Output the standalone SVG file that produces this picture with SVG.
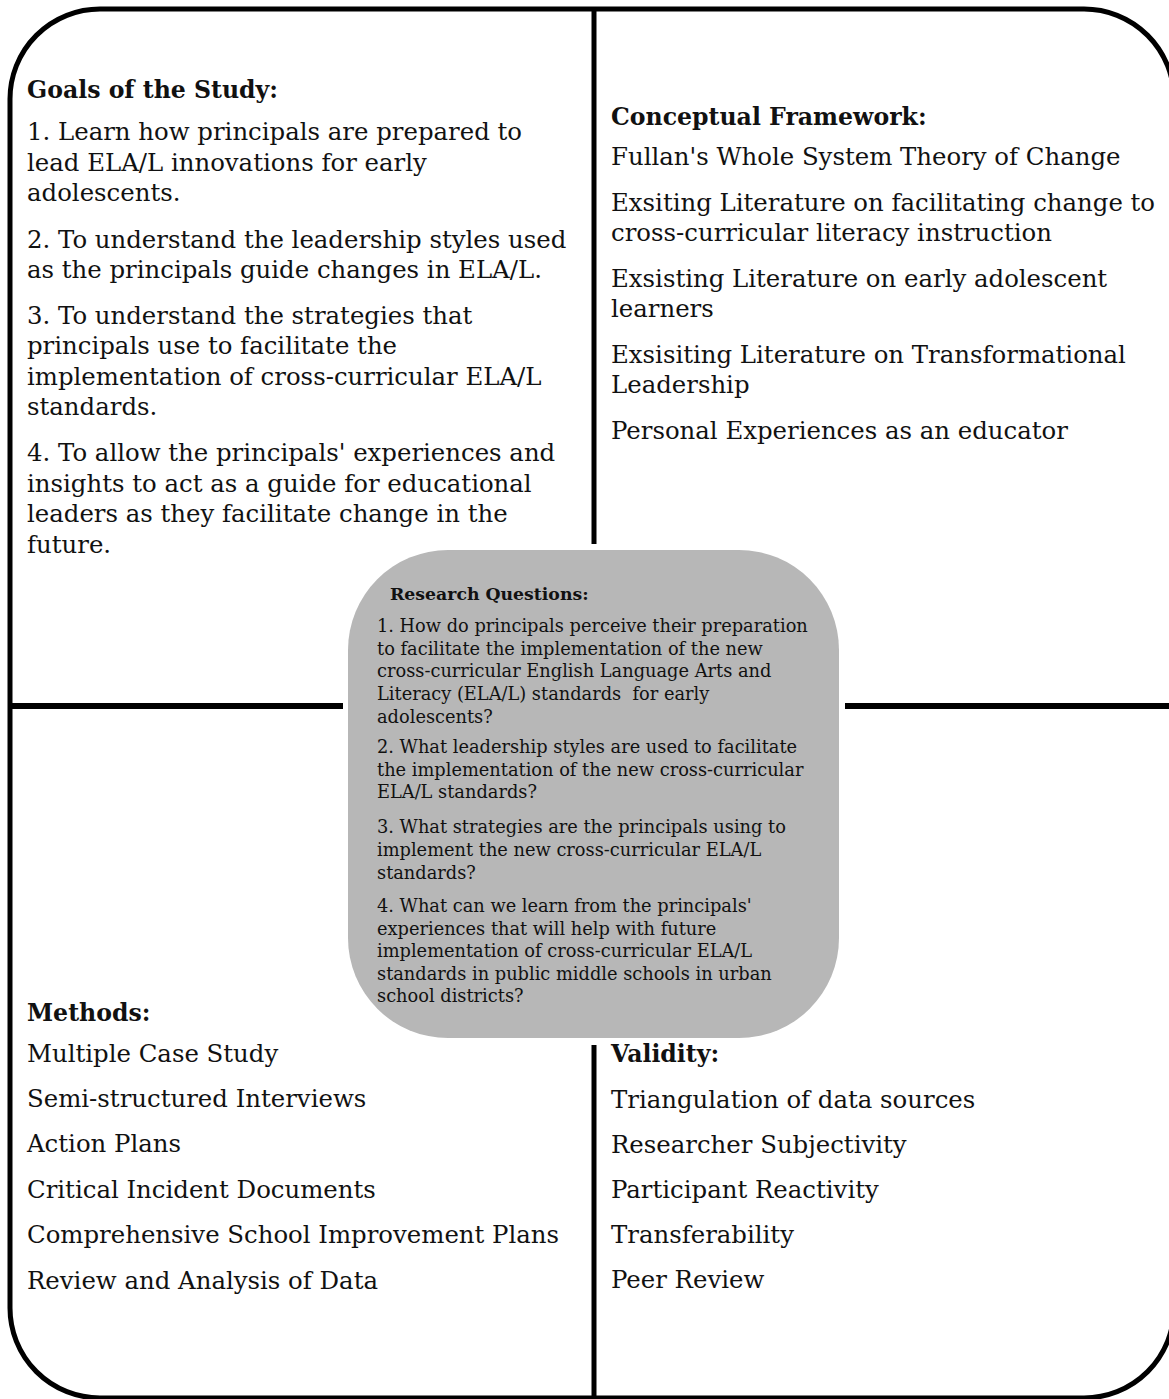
<svg xmlns="http://www.w3.org/2000/svg" width="1169" height="1399" viewBox="0 0 1169 1399">
<style>
.t{font-family:"DejaVu Serif","Liberation Serif",serif;font-size:24.4px;fill:#111}
.h{font-family:"DejaVu Serif","Liberation Serif",serif;font-size:23.6px;font-weight:bold;fill:#111}
.s{font-family:"DejaVu Serif","Liberation Serif",serif;font-size:17.8px;fill:#111}
.sh{font-family:"DejaVu Serif","Liberation Serif",serif;font-size:17.3px;font-weight:bold;fill:#111}
.ln{stroke:#000;fill:none}
</style>
<rect width="1169" height="1399" fill="#fff"/>
<g id="connectors">
<rect class="ln" x="10" y="9" width="1164" height="1389" rx="90" ry="90" stroke-width="5"/>
<line class="ln" x1="594" y1="8" x2="594" y2="544" stroke-width="5"/>
<line class="ln" x1="594" y1="1045" x2="594" y2="1399" stroke-width="5"/>
<line class="ln" x1="9" y1="706" x2="343" y2="706" stroke-width="6"/>
<line class="ln" x1="845" y1="706" x2="1174" y2="706" stroke-width="6"/>
</g>
<g id="goals">
<text class="h" x="27" y="98">Goals of the Study:</text>
<text class="t" x="27" y="140">1. Learn how principals are prepared to</text>
<text class="t" x="27" y="171">lead ELA/L innovations for early</text>
<text class="t" x="27" y="201">adolescents.</text>
<text class="t" x="27" y="248">2. To understand the leadership styles used</text>
<text class="t" x="27" y="278">as the principals guide changes in ELA/L.</text>
<text class="t" x="27" y="324">3. To understand the strategies that</text>
<text class="t" x="27" y="354">principals use to facilitate the</text>
<text class="t" x="27" y="385">implementation of cross-curricular ELA/L</text>
<text class="t" x="27" y="415">standards.</text>
<text class="t" x="27" y="461">4. To allow the principals' experiences and</text>
<text class="t" x="27" y="492">insights to act as a guide for educational</text>
<text class="t" x="27" y="522">leaders as they facilitate change in the</text>
<text class="t" x="27" y="553">future.</text>
</g>
<g id="framework">
<text class="h" x="611" y="125">Conceptual Framework:</text>
<text class="t" x="611" y="165">Fullan's Whole System Theory of Change</text>
<text class="t" x="611" y="211">Exsiting Literature on facilitating change to</text>
<text class="t" x="611" y="241">cross-curricular literacy instruction</text>
<text class="t" x="611" y="287">Exsisting Literature on early adolescent</text>
<text class="t" x="611" y="317">learners</text>
<text class="t" x="611" y="363">Exsisiting Literature on Transformational</text>
<text class="t" x="611" y="393">Leadership</text>
<text class="t" x="611" y="439">Personal Experiences as an educator</text>
</g>
<g id="methods">
<text class="h" x="27" y="1021">Methods:</text>
<text class="t" x="27" y="1062">Multiple Case Study</text>
<text class="t" x="27" y="1107">Semi-structured Interviews</text>
<text class="t" x="27" y="1152">Action Plans</text>
<text class="t" x="27" y="1198">Critical Incident Documents</text>
<text class="t" x="27" y="1243">Comprehensive School Improvement Plans</text>
<text class="t" x="27" y="1289">Review and Analysis of Data</text>
</g>
<g id="validity">
<text class="h" x="611" y="1062">Validity:</text>
<text class="t" x="611" y="1108">Triangulation of data sources</text>
<text class="t" x="611" y="1153">Researcher Subjectivity</text>
<text class="t" x="611" y="1198">Participant Reactivity</text>
<text class="t" x="611" y="1243">Transferability</text>
<text class="t" x="611" y="1288">Peer Review</text>
</g>
<g id="research-questions">
<rect x="348" y="550" width="491" height="488" rx="100" ry="100" fill="#b7b7b7"/>
<text class="sh" x="390" y="600">Research Questions:</text>
<text class="s" x="377" y="632">1. How do principals perceive their preparation</text>
<text class="s" x="377" y="654.5">to facilitate the implementation of the new</text>
<text class="s" x="377" y="677">cross-curricular English Language Arts and</text>
<text class="s" x="377" y="699.5" xml:space="preserve">Literacy (ELA/L) standards  for early</text>
<text class="s" x="377" y="722.5">adolescents?</text>
<text class="s" x="377" y="753">2. What leadership styles are used to facilitate</text>
<text class="s" x="377" y="775.5">the implementation of the new cross-curricular</text>
<text class="s" x="377" y="798">ELA/L standards?</text>
<text class="s" x="377" y="833">3. What strategies are the principals using to</text>
<text class="s" x="377" y="856">implement the new cross-curricular ELA/L</text>
<text class="s" x="377" y="879">standards?</text>
<text class="s" x="377" y="912">4. What can we learn from the principals'</text>
<text class="s" x="377" y="934.5">experiences that will help with future</text>
<text class="s" x="377" y="957">implementation of cross-curricular ELA/L</text>
<text class="s" x="377" y="979.5">standards in public middle schools in urban</text>
<text class="s" x="377" y="1002">school districts?</text>
</g>
</svg>
